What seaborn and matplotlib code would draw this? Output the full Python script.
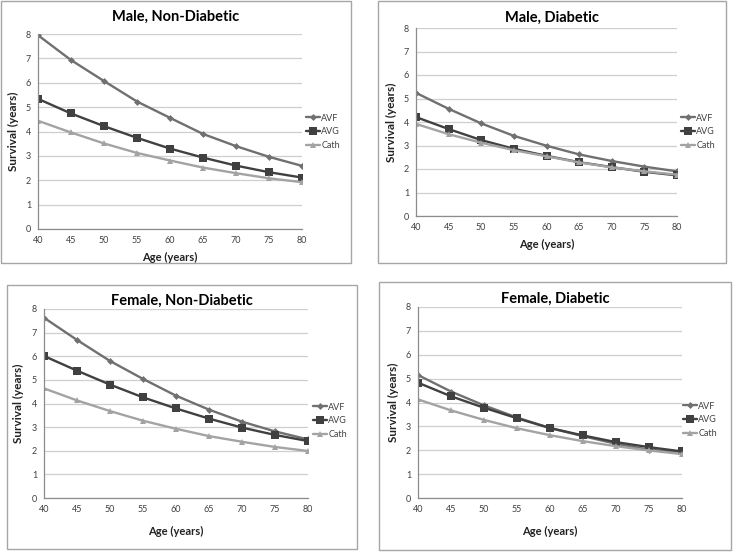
import matplotlib
matplotlib.use("Agg")
import matplotlib.pyplot as plt
from matplotlib.patches import Rectangle
import seaborn as sns
import pandas as pd

# values
ages = [40, 45, 50, 55, 60, 65, 70, 75, 80]
series = ["AVF", "AVG", "Cath"]

male_nd_avf = [7.95, 6.93, 6.07, 5.23, 4.56, 3.90, 3.40, 2.96, 2.59]
male_nd_avg = [5.34, 4.74, 4.22, 3.74, 3.30, 2.93, 2.60, 2.33, 2.11]
male_nd_cath = [4.44, 3.96, 3.51, 3.12, 2.81, 2.52, 2.29, 2.08, 1.92]

male_d_avf = [5.24, 4.56, 3.94, 3.41, 2.99, 2.62, 2.34, 2.10, 1.90]
male_d_avg = [4.21, 3.70, 3.23, 2.86, 2.56, 2.29, 2.08, 1.88, 1.73]
male_d_cath = [3.92, 3.48, 3.12, 2.80, 2.54, 2.28, 2.07, 1.90, 1.76]

female_nd_avf = [7.63, 6.69, 5.80, 5.04, 4.33, 3.74, 3.23, 2.82, 2.48]
female_nd_avg = [6.01, 5.39, 4.80, 4.26, 3.79, 3.36, 2.98, 2.67, 2.41]
female_nd_cath = [4.64, 4.13, 3.68, 3.27, 2.93, 2.62, 2.38, 2.16, 1.99]

female_d_avf = [5.15, 4.46, 3.88, 3.37, 2.93, 2.59, 2.27, 2.02, 1.93]
female_d_avg = [4.83, 4.26, 3.78, 3.34, 2.93, 2.62, 2.34, 2.13, 1.95]
female_d_cath = [4.13, 3.67, 3.27, 2.92, 2.63, 2.38, 2.17, 1.99, 1.84]

titles = ["Male, Non-Diabetic", "Male, Diabetic", "Female, Non-Diabetic", "Female, Diabetic"]
panel_data = [
    [male_nd_avf, male_nd_avg, male_nd_cath],
    [male_d_avf, male_d_avg, male_d_cath],
    [female_nd_avf, female_nd_avg, female_nd_cath],
    [female_d_avf, female_d_avg, female_d_cath],
]

palette = {"AVF": "#707070", "AVG": "#404040", "Cath": "#a3a3a3"}
markers = {"AVF": "D", "AVG": "s", "Cath": "^"}
msizes = {"AVF": 3.5, "AVG": 6, "Cath": 5}

W, H = 733, 552
# layout in pixels: axes (left, top, right, bottom), box (l, t, r, b), legend (left x, center y)
axes_px = [(38, 34, 302, 229), (416, 28, 677, 216), (44, 309, 308, 498), (418, 307, 682, 498)]
box_px = [(1, 1, 351, 263), (378, 1, 726, 263), (7, 285, 357, 549), (379, 282, 731, 550)]
title_y = [17, 18, 301, 299]
xlabel_y = [257, 244, 531, 531]
ylabel_x = [13, 391, 18, 393]
legend_px = [(306, 132), (681, 132), (313, 421), (683, 420)]

sns.set_style("white")
plt.rcParams["font.family"] = ["Lato", "DejaVu Sans"]

fig = plt.figure(figsize=(W / 100, H / 100), dpi=100)
fig.patch.set_facecolor("white")


def fx(px):
    return px / W


def fy(py):
    return 1 - py / H


for i in range(4):
    bl, bt, br, bb = box_px[i]
    fig.patches.append(Rectangle((fx(bl), fy(bb)), fx(br - bl), (bb - bt) / H,
                                 transform=fig.transFigure, fill=False,
                                 edgecolor="#a6a6a6", linewidth=1.0))

    l, t, r, b = axes_px[i]
    ax = fig.add_axes([fx(l), fy(b), fx(r - l), (b - t) / H])

    rows = []
    for name, vals in zip(series, panel_data[i]):
        for a, v in zip(ages, vals):
            rows.append({"Age": a, "Survival": v, "Access": name})
    df = pd.DataFrame(rows)

    for name in series:
        sub = df[df["Access"] == name]
        sns.lineplot(data=sub, x="Age", y="Survival", ax=ax, color=palette[name],
                     marker=markers[name], markersize=msizes[name], markeredgewidth=0,
                     linewidth=1.7, label=name)

    ax.set_xlim(40, 80)
    ax.set_ylim(0, 8)
    ax.set_xticks(ages)
    ax.set_yticks(range(0, 9))
    ax.grid(axis="y", color="#cfcfcf", linewidth=0.9)
    ax.grid(axis="x", visible=False)
    for s in ["top", "right"]:
        ax.spines[s].set_visible(False)
    for s in ["left", "bottom"]:
        ax.spines[s].set_color("#8c8c8c")
        ax.spines[s].set_linewidth(0.9)
    ax.tick_params(axis="both", labelsize=6.5, colors="#8c8c8c", labelcolor="#404040",
                   length=3, width=0.8, pad=2)
    ax.set_xlabel("")
    ax.set_ylabel("")
    ax.set_axisbelow(True)

    cx = (bl + br) / 2
    fig.text(fx(cx), fy(title_y[i]), titles[i], ha="center", va="center",
             fontsize=10.5, fontweight="bold", color="#000000")
    fig.text(fx((l + r) / 2), fy(xlabel_y[i]), "Age (years)", ha="center", va="center",
             fontsize=8, fontweight="bold", color="#222222")
    fig.text(fx(ylabel_x[i]), fy((t + b) / 2), "Survival (years)", ha="center", va="center",
             rotation=90, fontsize=8.5, fontweight="bold", color="#222222")

    lx, ly = legend_px[i]
    ax.legend(loc="center left", bbox_to_anchor=(fx(lx), fy(ly)),
              bbox_transform=fig.transFigure, frameon=False, fontsize=6.5,
              handlelength=1.6, handletextpad=0.1, labelspacing=0.55,
              borderpad=0, borderaxespad=0, labelcolor="#404040")

fig.savefig("out.png", dpi=100, facecolor="white")
